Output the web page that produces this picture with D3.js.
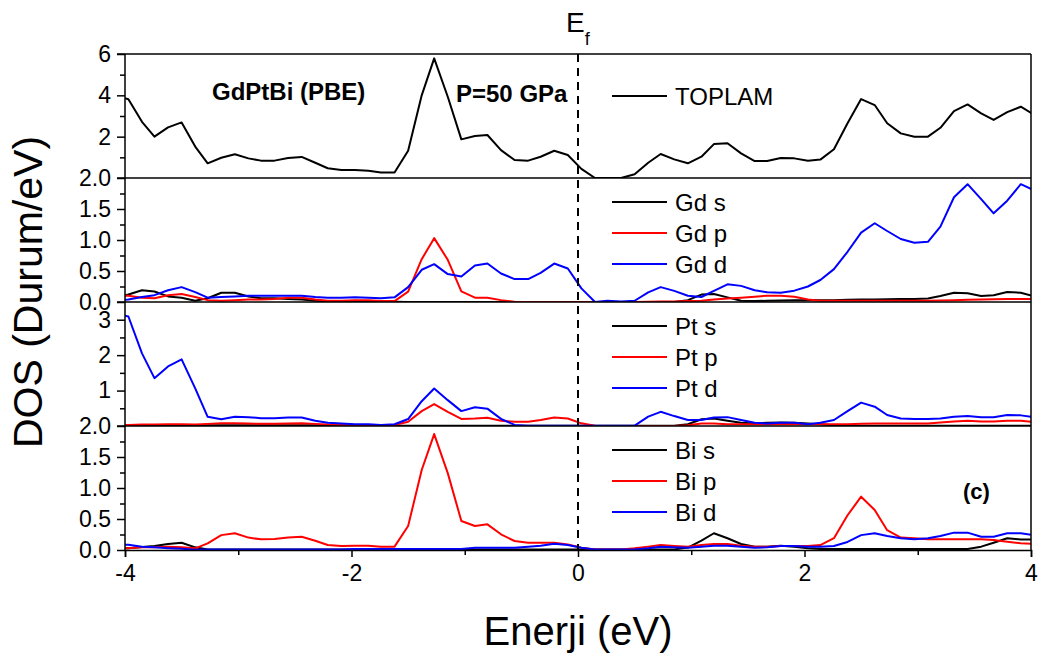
<!DOCTYPE html>
<html>
<head>
<meta charset="utf-8">
<script src="https://cdn.jsdelivr.net/npm/d3@7"></script>
<style>
  body { margin: 0; background: #fff; }
  svg { font-family: "Liberation Sans", Arial, sans-serif; }
</style>
</head>
<body>
<div id="chart"></div>
<script>
// energy grid (eV)
const energy = [-4.09, -3.97, -3.85, -3.74, -3.62, -3.50, -3.38, -3.27, -3.15, -3.03, -2.91,
  -2.80, -2.68, -2.56, -2.44, -2.32, -2.21, -2.09, -1.97, -1.85, -1.74, -1.62, -1.50, -1.38,
  -1.27, -1.15, -1.03, -0.91, -0.80, -0.68, -0.56, -0.44, -0.33, -0.21, -0.09, 0.03, 0.15,
  0.26, 0.38, 0.50, 0.62, 0.73, 0.85, 0.97, 1.09, 1.20, 1.32, 1.44, 1.56, 1.67, 1.79, 1.91,
  2.03, 2.14, 2.26, 2.38, 2.50, 2.62, 2.73, 2.85, 2.97, 3.09, 3.20, 3.32, 3.44, 3.56, 3.67,
  3.79, 3.91, 4.03];

const toplam = [4.0, 3.81, 2.72, 2.0, 2.45, 2.69, 1.52, 0.71, 0.98, 1.15, 0.95, 0.84, 0.84, 0.97,
  1.02, 0.74, 0.47, 0.39, 0.39, 0.35, 0.27, 0.27, 1.32, 4.0, 5.79, 3.93, 1.87, 2.03, 2.08, 1.35,
  0.87, 0.84, 1.03, 1.32, 1.11, 0.44, 0.0, 0.0, 0.0, 0.18, 0.74, 1.16, 0.9, 0.71, 1.03, 1.64,
  1.68, 1.19, 0.82, 0.82, 0.97, 0.95, 0.84, 0.89, 1.39, 2.65, 3.82, 3.53, 2.65, 2.16, 2.0, 2.0,
  2.43, 3.24, 3.56, 3.13, 2.81, 3.19, 3.45, 3.05];

const gdS = [0.08, 0.12, 0.19, 0.17, 0.09, 0.07, 0.02, 0.06, 0.15, 0.15, 0.09, 0.06, 0.06, 0.05,
  0.04, 0.02, 0.01, 0.01, 0.01, 0.01, 0.005, 0.005, 0, 0, 0, 0, 0, 0, 0, 0, 0, 0, 0, 0, 0, 0, 0,
  0, 0, 0, 0, 0, 0, 0.03, 0.12, 0.13, 0.075, 0.02, 0.015, 0.02, 0.025, 0.03, 0.03, 0.03, 0.03,
  0.035, 0.04, 0.04, 0.045, 0.05, 0.05, 0.058, 0.097, 0.15, 0.14, 0.097, 0.11, 0.16, 0.15, 0.09];
const gdP = [0.1, 0.1, 0.07, 0.06, 0.11, 0.13, 0.08, 0.03, 0.02, 0.03, 0.04, 0.04, 0.05, 0.07,
  0.07, 0.04, 0.02, 0.02, 0.03, 0.03, 0.015, 0.015, 0.167, 0.69, 1.03, 0.68, 0.17, 0.07, 0.07,
  0.03, 0.005, 0, 0, 0, 0, 0, 0, 0, 0, 0, 0.005, 0.01, 0.01, 0.015, 0.02, 0.04, 0.058, 0.07,
  0.086, 0.102, 0.1, 0.086, 0.04, 0.02, 0.02, 0.02, 0.02, 0.02, 0.02, 0.02, 0.02, 0.02, 0.025,
  0.03, 0.035, 0.04, 0.045, 0.05, 0.05, 0.05];
const gdD = [0.03, 0.04, 0.08, 0.11, 0.19, 0.24, 0.16, 0.07, 0.08, 0.09, 0.1, 0.1, 0.1, 0.1, 0.1,
  0.08, 0.07, 0.07, 0.075, 0.07, 0.06, 0.075, 0.24, 0.52, 0.61, 0.45, 0.41, 0.59, 0.62, 0.46,
  0.37, 0.37, 0.47, 0.62, 0.54, 0.22, 0.0, 0.02, 0.01, 0.02, 0.156, 0.24, 0.18, 0.1, 0.081, 0.18,
  0.285, 0.26, 0.19, 0.156, 0.15, 0.183, 0.25, 0.355, 0.53, 0.81, 1.12, 1.27, 1.145, 1.016,
  0.957, 0.97, 1.215, 1.69, 1.90, 1.66, 1.43, 1.634, 1.90, 1.80];

const ptS = [0.01, 0.01, 0.01, 0.01, 0.01, 0.01, 0.01, 0.02, 0.02, 0.02, 0.02, 0.02, 0.02, 0.02,
  0.02, 0.02, 0.01, 0.01, 0.01, 0.01, 0.01, 0.01, 0.01, 0.01, 0.01, 0.01, 0.01, 0.01, 0.01, 0.01,
  0.01, 0.01, 0.01, 0.01, 0.01, 0.01, 0.01, 0.01, 0.01, 0.01, 0.01, 0.01, 0.01, 0.05, 0.19, 0.21,
  0.15, 0.09, 0.07, 0.09, 0.1, 0.09, 0.07, 0.05, 0.02, 0.01, 0.01, 0.01, 0.01, 0.01, 0.01, 0.01,
  0.01, 0.01, 0.01, 0.01, 0.01, 0.01, 0.01, 0.01];
const ptP = [0.03, 0.03, 0.04, 0.04, 0.05, 0.05, 0.04, 0.06, 0.08, 0.08, 0.07, 0.06, 0.06, 0.07,
  0.08, 0.06, 0.04, 0.03, 0.03, 0.03, 0.01, 0.03, 0.12, 0.42, 0.62, 0.4, 0.2, 0.21, 0.23, 0.15,
  0.12, 0.12, 0.17, 0.24, 0.21, 0.075, 0.01, 0, 0, 0, 0, 0, 0, 0.02, 0.07, 0.07, 0.05, 0.05,
  0.05, 0.05, 0.05, 0.05, 0.05, 0.05, 0.05, 0.05, 0.06, 0.07, 0.07, 0.07, 0.07, 0.07, 0.1, 0.13,
  0.15, 0.13, 0.13, 0.15, 0.15, 0.11];
const ptD = [3.18, 3.09, 2.05, 1.35, 1.68, 1.88, 1.06, 0.26, 0.19, 0.26, 0.25, 0.22, 0.22, 0.24,
  0.24, 0.15, 0.09, 0.07, 0.05, 0.05, 0.03, 0.05, 0.197, 0.7, 1.06, 0.73, 0.42, 0.53, 0.49, 0.2,
  0.03, 0.01, 0.01, 0.01, 0.01, 0.01, 0.01, 0.01, 0.01, 0.01, 0.264, 0.4, 0.28, 0.17, 0.17, 0.24,
  0.25, 0.17, 0.09, 0.07, 0.09, 0.09, 0.05, 0.09, 0.17, 0.42, 0.66, 0.545, 0.31, 0.21, 0.2, 0.2,
  0.21, 0.26, 0.28, 0.25, 0.25, 0.31, 0.3, 0.25];

const biS = [0.027, 0.03, 0.05, 0.065, 0.097, 0.118, 0.043, 0.01, 0.01, 0.01, 0.01, 0.01, 0.01,
  0.01, 0.01, 0.01, 0.01, 0.01, 0.01, 0.01, 0.01, 0.01, 0.01, 0.01, 0.01, 0.01, 0.01, 0.01, 0.01,
  0.01, 0.01, 0.01, 0.01, 0.01, 0.01, 0.01, 0.01, 0.01, 0.01, 0.01, 0.01, 0.01, 0.01, 0.04, 0.151,
  0.27, 0.19, 0.097, 0.054, 0.054, 0.07, 0.054, 0.027, 0.016, 0.016, 0.016, 0.016, 0.016, 0.016,
  0.016, 0.016, 0.016, 0.016, 0.016, 0.016, 0.054, 0.118, 0.19, 0.17, 0.17];
const biP = [0.027, 0.03, 0.043, 0.043, 0.054, 0.043, 0.027, 0.108, 0.24, 0.27, 0.2, 0.172,
  0.177, 0.2, 0.215, 0.15, 0.08, 0.065, 0.07, 0.07, 0.054, 0.054, 0.387, 1.29, 1.87, 1.24, 0.468,
  0.387, 0.414, 0.253, 0.145, 0.118, 0.118, 0.118, 0.09, 0.038, 0.01, 0.01, 0.01, 0.027, 0.054,
  0.08, 0.065, 0.054, 0.08, 0.097, 0.097, 0.07, 0.054, 0.054, 0.065, 0.065, 0.065, 0.08, 0.19,
  0.56, 0.86, 0.645, 0.32, 0.2, 0.19, 0.172, 0.172, 0.172, 0.172, 0.172, 0.16, 0.134, 0.108, 0.097];
const biD = [0.09, 0.085, 0.054, 0.043, 0.03, 0.02, 0.005, 0.01, 0.01, 0.01, 0.01, 0.01, 0.01,
  0.01, 0.01, 0.01, 0.01, 0.01, 0.016, 0.016, 0.016, 0.016, 0.016, 0.016, 0.016, 0.016, 0.016,
  0.038, 0.038, 0.038, 0.038, 0.054, 0.07, 0.1, 0.08, 0.038, 0.01, 0.01, 0.01, 0.01, 0.027, 0.054,
  0.043, 0.038, 0.054, 0.07, 0.07, 0.054, 0.038, 0.043, 0.065, 0.065, 0.054, 0.054, 0.065, 0.13,
  0.24, 0.27, 0.226, 0.19, 0.172, 0.19, 0.226, 0.28, 0.28, 0.215, 0.215, 0.27, 0.27, 0.24];

const colors = ["#000000", "#ff0000", "#0000ff"];

const panels = [
  { series: [["TOPLAM", toplam]], max: 6, ticks: [2, 4, 6], minor: [1, 3, 5], fmt: d3.format("d") },
  { series: [["Gd s", gdS], ["Gd p", gdP], ["Gd d", gdD]], max: 2, ticks: [0, 0.5, 1, 1.5, 2],
    minor: [0.25, 0.75, 1.25, 1.75], fmt: d3.format(".1f") },
  { series: [["Pt s", ptS], ["Pt p", ptP], ["Pt d", ptD]], max: 3.5, ticks: [1, 2, 3],
    minor: [0.5, 1.5, 2.5], fmt: d3.format("d") },
  { series: [["Bi s", biS], ["Bi p", biP], ["Bi d", biD]], max: 2, ticks: [0, 0.5, 1, 1.5, 2],
    minor: [0.25, 0.75, 1.25, 1.75], fmt: d3.format(".1f") }
];

const width = 1048, height = 662;
const plotLeft = 125, plotRight = 1031, plotTop = 54, panelH = 124;
const plotBottom = plotTop + panelH * panels.length;

const x = d3.scaleLinear().domain([-4, 4]).range([plotLeft, plotRight]);

const svg = d3.select("#chart").append("svg")
  .attr("width", width)
  .attr("height", height);

panels.forEach((p, i) => {
  const y0 = plotTop + i * panelH;
  const y = d3.scaleLinear().domain([0, p.max]).range([y0 + panelH, y0]);

  svg.append("clipPath").attr("id", "clip" + i)
    .append("rect")
    .attr("x", plotLeft).attr("y", y0)
    .attr("width", plotRight - plotLeft).attr("height", panelH);

  const line = d3.line()
    .x((d, k) => x(energy[k]))
    .y(d => y(d));

  const g = svg.append("g").attr("clip-path", `url(#clip${i})`);
  p.series.forEach(([name, vals], j) => {
    g.append("path")
      .attr("fill", "none")
      .attr("stroke", colors[j])
      .attr("stroke-width", 2)
      .attr("stroke-linejoin", "round")
      .attr("d", line(vals));
  });

  // y axis
  svg.append("g")
    .attr("transform", `translate(${plotLeft},0)`)
    .call(d3.axisLeft(y).tickValues(p.minor).tickSize(5).tickFormat(""))
    .call(a => a.select(".domain").remove())
    .call(a => a.selectAll("line").attr("stroke-width", 1.5));

  svg.append("g")
    .attr("transform", `translate(${plotLeft},0)`)
    .call(d3.axisLeft(y).tickValues(p.ticks).tickSize(8).tickPadding(6).tickFormat(p.fmt))
    .call(a => a.select(".domain").remove())
    .call(a => a.selectAll("line").attr("stroke-width", 1.5))
    .call(a => a.selectAll("text").attr("font-size", 23).attr("fill", "#000")
      .attr("font-family", "Liberation Sans, Arial, sans-serif"));

  // panel top line
  svg.append("line")
    .attr("x1", plotLeft - 8).attr("x2", plotRight)
    .attr("y1", y0).attr("y2", y0)
    .attr("stroke", "#000").attr("stroke-width", 1.5);

  // legend
  const ly = p.series.length === 1 ? [42] : [24, 55, 86];
  p.series.forEach(([name], j) => {
    svg.append("line")
      .attr("x1", 612).attr("x2", 667)
      .attr("y1", y0 + ly[j]).attr("y2", y0 + ly[j])
      .attr("stroke", colors[j]).attr("stroke-width", 2);
    svg.append("text")
      .attr("x", 675).attr("y", y0 + ly[j])
      .attr("dy", "0.36em")
      .attr("font-size", 24)
      .text(name);
  });
});

// frame: left, right
svg.append("line").attr("x1", plotLeft).attr("x2", plotLeft).attr("y1", plotTop).attr("y2", plotBottom)
  .attr("stroke", "#000").attr("stroke-width", 1.5);
svg.append("line").attr("x1", plotRight).attr("x2", plotRight).attr("y1", plotTop).attr("y2", plotBottom)
  .attr("stroke", "#000").attr("stroke-width", 1.5);

// x axis
svg.append("g")
  .attr("transform", `translate(0,${plotBottom})`)
  .call(d3.axisBottom(x).tickValues([-3, -1, 1, 3]).tickSize(5).tickFormat(""))
  .call(a => a.select(".domain").remove())
  .call(a => a.selectAll("line").attr("stroke-width", 1.5));
svg.append("g")
  .attr("transform", `translate(0,${plotBottom})`)
  .call(d3.axisBottom(x).tickValues([-4, -2, 0, 2, 4]).tickSize(7).tickPadding(8).tickFormat(d3.format("d")))
  .call(a => a.select(".domain").attr("stroke-width", 1.5))
  .call(a => a.selectAll("line").attr("stroke-width", 1.5))
  .call(a => a.selectAll("text").attr("font-size", 23).attr("fill", "#000")
    .attr("font-family", "Liberation Sans, Arial, sans-serif")
    .text(d => d < 0 ? "-" + Math.abs(d) : d));

// Fermi level
svg.append("line")
  .attr("x1", x(0)).attr("x2", x(0))
  .attr("y1", plotTop).attr("y2", plotBottom)
  .attr("stroke", "#000").attr("stroke-width", 2)
  .attr("stroke-dasharray", "8,6");

const ef = svg.append("text").attr("x", 566).attr("y", 32).attr("font-size", 28);
ef.append("tspan").text("E");
ef.append("tspan").attr("font-size", 18).attr("dy", 13).text("f");

// annotations
svg.append("text").attr("x", 212).attr("y", 100).attr("font-size", 24)
  .attr("font-weight", "bold").text("GdPtBi (PBE)");
svg.append("text").attr("x", 456).attr("y", 102).attr("font-size", 24)
  .attr("font-weight", "bold").text("P=50 GPa");
svg.append("text").attr("x", 963).attr("y", 499).attr("font-size", 22)
  .attr("font-weight", "bold").text("(c)");

// axis titles
svg.append("text")
  .attr("transform", "translate(42,292) rotate(-90)")
  .attr("text-anchor", "middle")
  .attr("font-size", 41)
  .text("DOS (Durum/eV)");
svg.append("text")
  .attr("x", x(0)).attr("y", 645)
  .attr("text-anchor", "middle")
  .attr("font-size", 40)
  .text("Enerji (eV)");
</script>
</body>
</html>
